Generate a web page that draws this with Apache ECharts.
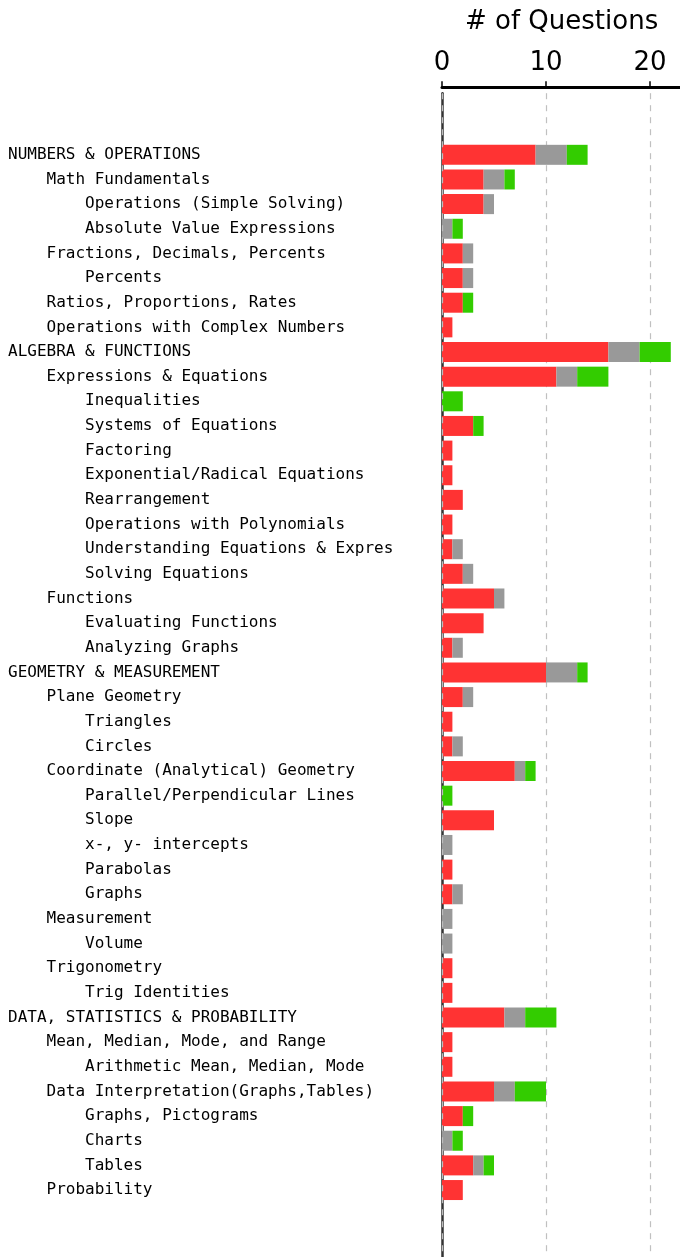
<!DOCTYPE html>
<html>
<head>
<meta charset="utf-8">
<script src="https://cdn.jsdelivr.net/npm/echarts@6/dist/echarts.min.js"></script>
<style>
html,body{margin:0;padding:0;background:#fff;}
#chart{width:680px;height:1257px;}
</style>
</head>
<body>
<div id="chart"></div>
<script>
// Category labels (indent = 4 spaces per level)
const categories = [
  "NUMBERS & OPERATIONS",
  "    Math Fundamentals",
  "        Operations (Simple Solving)",
  "        Absolute Value Expressions",
  "    Fractions, Decimals, Percents",
  "        Percents",
  "    Ratios, Proportions, Rates",
  "    Operations with Complex Numbers",
  "ALGEBRA & FUNCTIONS",
  "    Expressions & Equations",
  "        Inequalities",
  "        Systems of Equations",
  "        Factoring",
  "        Exponential/Radical Equations",
  "        Rearrangement",
  "        Operations with Polynomials",
  "        Understanding Equations & Expres",
  "        Solving Equations",
  "    Functions",
  "        Evaluating Functions",
  "        Analyzing Graphs",
  "GEOMETRY & MEASUREMENT",
  "    Plane Geometry",
  "        Triangles",
  "        Circles",
  "    Coordinate (Analytical) Geometry",
  "        Parallel/Perpendicular Lines",
  "        Slope",
  "        x-, y- intercepts",
  "        Parabolas",
  "        Graphs",
  "    Measurement",
  "        Volume",
  "    Trigonometry",
  "        Trig Identities",
  "DATA, STATISTICS & PROBABILITY",
  "    Mean, Median, Mode, and Range",
  "        Arithmetic Mean, Median, Mode",
  "    Data Interpretation(Graphs,Tables)",
  "        Graphs, Pictograms",
  "        Charts",
  "        Tables",
  "    Probability"
];

const redValues = [
  9, 4, 4, 0, 2, 2, 2, 1,
  16, 11, 0, 3, 1, 1, 2, 1, 1, 2, 5, 4, 1,
  10, 2, 1, 1, 7, 0, 5, 0, 1, 1, 0, 0, 1, 1,
  6, 1, 1, 5, 2, 0, 3, 2
];
const grayValues = [
  3, 2, 1, 1, 1, 1, 0, 0,
  3, 2, 0, 0, 0, 0, 0, 0, 1, 1, 1, 0, 1,
  3, 1, 0, 1, 1, 0, 0, 1, 0, 1, 1, 1, 0, 0,
  2, 0, 0, 2, 0, 1, 1, 0
];
const greenValues = [
  2, 1, 0, 1, 0, 0, 1, 0,
  3, 3, 2, 1, 0, 0, 0, 0, 0, 0, 0, 0, 0,
  1, 0, 0, 0, 1, 1, 0, 0, 0, 0, 0, 0, 0, 0,
  3, 0, 0, 3, 1, 1, 1, 0
];

const xTicks = [0, 10, 20];

// padding slots (empty categories) above and below
const padTop = 2, padBottom = 3;
const blanksTop = Array.from({length: padTop}, (_, i) => ' '.repeat(i + 1) + '\u200b');
const blanksBottom = Array.from({length: padBottom}, (_, i) => '\u200b' + ' '.repeat(i + 1));
const allCats = blanksTop.concat(categories, blanksBottom);
function pad(arr) {
  return Array(padTop).fill('-').concat(arr, Array(padBottom).fill('-'));
}

const rowPitch = 24.648;
const gridTop = 93.2;

const chart = echarts.init(document.getElementById('chart'), null, {renderer: 'canvas'});
chart.setOption({
  animation: false,
  backgroundColor: '#fff',
  grid: {
    left: 442,
    top: gridTop,
    width: 239.2,
    height: rowPitch * allCats.length,
    containLabel: false,
    outerBoundsMode: 'none'
  },
  xAxis: {
    type: 'value',
    position: 'top',
    offset: 6,
    min: 0,
    max: 23,
    interval: 10,
    name: '# of Questions',
    nameLocation: 'middle',
    nameGap: 52,
    nameTextStyle: {fontFamily: 'DejaVu Sans', fontSize: 26, color: '#000'},
    axisLine: {show: true, onZero: false, lineStyle: {color: '#000', width: 3}},
    axisTick: {show: true, inside: false, length: 6, lineStyle: {color: '#000', width: 1.5}},
    axisLabel: {
      fontFamily: 'DejaVu Sans', fontSize: 26, color: '#000', margin: 11,
      showMaxLabel: false,
      formatter: function (v) { return xTicks.indexOf(v) >= 0 ? String(v) : ''; }
    },
    splitLine: {show: true, lineStyle: {color: '#c0c0c0', type: [6, 6], width: 1.2}}
  },
  yAxis: {
    type: 'category',
    inverse: true,
    data: allCats,
    axisLine: {show: true, lineStyle: {color: '#333', width: 2.5}},
    axisTick: {show: false},
    axisLabel: {
      show: true,
      interval: 0,
      align: 'left',
      margin: 434,
      fontFamily: 'DejaVu Sans Mono',
      fontSize: 16,
      color: '#000',
      formatter: function (v) { return v.indexOf('\u200b') >= 0 ? '' : v; }
    },
    splitLine: {show: false}
  },
  series: [
    {
      name: 'red', type: 'bar', stack: 'q', data: pad(redValues), barWidth: 20,
      itemStyle: {color: '#ff3333'},
      markLine: {
        silent: true, symbol: 'none', label: {show: false}, z: 10,
        lineStyle: {color: '#bdbdbd', type: [6, 6], width: 1.2},
        data: [{xAxis: 0}]
      }
    },
    {name: 'gray', type: 'bar', stack: 'q', data: pad(grayValues), barWidth: 20, itemStyle: {color: '#999999'}},
    {name: 'green', type: 'bar', stack: 'q', data: pad(greenValues), barWidth: 20, itemStyle: {color: '#33cc00'}}
  ]
});
</script>
</body>
</html>
